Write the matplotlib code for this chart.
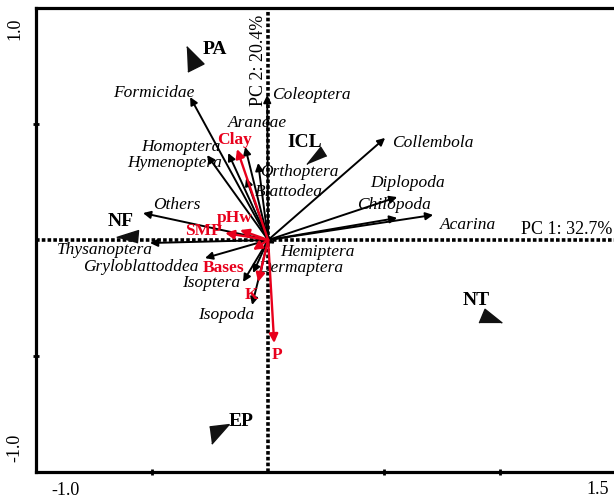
import numpy as np
import matplotlib.pyplot as plt

# species vectors (PC1, PC2)
species = ["Formicidae", "Coleoptera", "Araneae", "Homoptera", "Hymenoptera",
           "Orthoptera", "Blattodea", "Others", "Thysanoptera", "Gryloblattoddea",
           "Isoptera", "Isopoda", "Hemiptera", "Dermaptera", "Collembola",
           "Diplopoda", "Chilopoda", "Acarina"]
sp_x = [-0.336, -0.004, -0.099, -0.263, -0.172, -0.043, -0.095, -0.539, -0.509,
        -0.272, -0.108, -0.069, 0.030, -0.065, 0.504, 0.556, 0.556, 0.711]
sp_y = [0.616, 0.625, 0.401, 0.366, 0.375, 0.332, 0.267, 0.116, -0.013,
        -0.078, -0.181, -0.280, -0.015, -0.142, 0.440, 0.185, 0.095, 0.108]

# environmental vectors
env = ["Clay", "pHw", "SMP", "Bases", "K", "P"]
env_x = [-0.134, -0.121, -0.185, -0.065, -0.043, 0.026]
env_y = [0.392, 0.043, 0.030, -0.043, -0.181, -0.444]

# site centroids
sites = ["PA", "NF", "ICL", "NT", "EP"]
site_x = [-0.328, -0.595, 0.216, 0.948, -0.224]
site_y = [0.776, 0.013, 0.362, -0.336, -0.823]

# label anchors (left edge unless noted)
sp_lab = {"Formicidae": (-0.668, 0.634), "Coleoptera": (0.017, 0.625),
          "Araneae": (-0.172, 0.504), "Homoptera": (-0.205, 0.401),
          "Hymenoptera": (-0.20, 0.332), "Orthoptera": (-0.034, 0.293),
          "Blattodea": (-0.056, 0.207), "Others": (-0.496, 0.151),
          "Thysanoptera": (-0.909, -0.043), "Gryloblattoddea": (-0.797, -0.116),
          "Isoptera": (-0.371, -0.185), "Isopoda": (-0.302, -0.323),
          "Hemiptera": (0.052, -0.05), "Dermaptera": (-0.043, -0.12),
          "Collembola": (0.534, 0.418), "Diplopoda": (0.44, 0.246),
          "Chilopoda": (0.384, 0.151), "Acarina": (0.741, 0.065)}
right_aligned = ["Homoptera", "Hymenoptera"]
env_lab = {"Clay": (-0.22, 0.431), "pHw": (-0.22, 0.095), "SMP": (-0.358, 0.039),
           "Bases": (-0.28, -0.122), "K": (-0.103, -0.237), "P": (0.017, -0.496)}
site_lab = {"PA": (-0.284, 0.819), "NF": (-0.69, 0.078), "ICL": (0.082, 0.422),
            "NT": (0.836, -0.259), "EP": (-0.168, -0.784)}
# triangle shapes for the site markers
site_shape = {"PA": [(-5, 12), (10, -3), (-4, -10)],
              "NF": [(-12, 0), (7, 6), (6, -5)],
              "ICL": [(-10, -7), (2, 8), (7, 0)],
              "NT": [(-8, -4), (-3, 8), (12, -4)],
              "EP": [(-6, 4), (11, 6), (-4, -11)]}

fig = plt.figure(figsize=(6.14, 5.01), dpi=100)
ax = fig.add_axes([36 / 614, 29 / 501, 578 / 614, 464 / 501])
ax.set_xlim(-1.0, 1.49)
ax.set_ylim(-1.0, 1.0)

serif = "Liberation Serif"

ax.axhline(0, color="black", lw=2.6, ls=(0, (1, 0.6)), zorder=1)
ax.axvline(0, color="black", lw=2.6, ls=(0, (1, 0.6)), zorder=1)

for name, x, y in zip(species, sp_x, sp_y):
    ax.annotate("", xy=(x, y), xytext=(0, 0),
                arrowprops=dict(arrowstyle="-|>", color="black", lw=1.4,
                                mutation_scale=11, shrinkA=0, shrinkB=0))
    lx, ly = sp_lab[name]
    ax.text(lx, ly, name, family=serif, style="italic", fontsize=12.5,
            ha="right" if name in right_aligned else "left", va="center")

for name, x, y in zip(env, env_x, env_y):
    ax.annotate("", xy=(x, y), xytext=(0, 0),
                arrowprops=dict(arrowstyle="-|>", color="#e8001c", lw=1.7,
                                mutation_scale=13, shrinkA=0, shrinkB=0))
    lx, ly = env_lab[name]
    ax.text(lx, ly, name, family=serif, weight="bold", fontsize=12.5,
            color="#e8001c", ha="left", va="center")

for name, x, y in zip(sites, site_x, site_y):
    verts = site_shape[name]
    m = max(max(abs(a), abs(b)) for a, b in verts)
    ax.plot(x, y, marker=verts, ms=2 * m * 0.72 * 1.15, color="#111111", ls="none")
    lx, ly = site_lab[name]
    ax.text(lx, ly, name, family=serif, weight="bold", fontsize=14,
            ha="left", va="center")

ax.text(1.485, 0.045, "PC 1: 32.7%", family=serif, fontsize=13, ha="right", va="center")
ax.text(-0.043, 0.775, "PC 2: 20.4%", family=serif, fontsize=13, rotation=90,
        ha="center", va="center")

ax.spines["right"].set_visible(False)
for s in ["left", "top", "bottom"]:
    ax.spines[s].set_linewidth(2.3)
ax.set_xticks([-0.5, 0.5, 1.0])
ax.set_yticks([-0.5, 0.5])
ax.tick_params(direction="inout", length=5, width=2, labelbottom=False, labelleft=False)

ax.text(-1.09, 0.91, "1.0", family=serif, fontsize=13, rotation=90, ha="center", va="center")
ax.text(-1.09, -0.895, "-1.0", family=serif, fontsize=13, rotation=90, ha="center", va="center")
ax.text(-0.875, -1.08, "-1.0", family=serif, fontsize=13, ha="center", va="center")
ax.text(1.42, -1.075, "1.5", family=serif, fontsize=13, ha="center", va="center")

fig.savefig("out.png", dpi=100)
